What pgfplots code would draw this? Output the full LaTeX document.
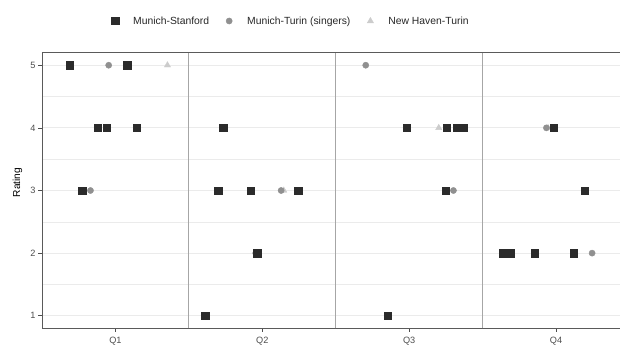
\documentclass[border=0pt]{standalone}
\usepackage{fontspec}
\setmainfont{Liberation Sans}
\usepackage{pgfplots}
\pgfplotsset{compat=1.18}
\definecolor{sqc}{HTML}{2B2B2B}
\definecolor{cic}{HTML}{909090}
\definecolor{trc}{HTML}{CCCCCC}
\definecolor{tickc}{HTML}{4D4D4D}
\definecolor{gridc}{HTML}{EBEBEB}
\definecolor{borderc}{HTML}{5A5A5A}
\definecolor{vlinec}{HTML}{A6A6A6}
\begin{document}
\begin{tikzpicture}
\begin{axis}[
  scale only axis,
  width=578bp, height=275.6bp,
  xmin=0.5, xmax=4.435,
  ymin=0.8, ymax=5.2,
  axis x line*=box, axis y line*=left,
  axis line style={borderc, line width=0.9bp},
  xtick={1,2,3,4}, xticklabels={Q1,Q2,Q3,Q4},
  ytick={1,2,3,4,5},
  minor ytick={1.5,2.5,3.5,4.5},
  xtick pos=bottom, ytick pos=left,
  tick align=outside,
  major tick length=3.5bp,
  every tick/.style={tickc, line width=0.6bp},
  ymajorgrids, yminorgrids,
  major grid style={gridc, line width=0.8bp},
  minor grid style={gridc, line width=0.5bp},
  minor tick length=0pt,
  tick label style={font=\fontsize{9.2}{11}\selectfont, text=tickc},
  /pgf/number format/assume math mode=true,
  xticklabel style={yshift=-2bp},
  yticklabel style={xshift=0.5bp},
  every axis y label/.style={at={(axis description cs:-0.0424,0.529)}, rotate=90, anchor=center},
  ylabel={\fontsize{10.2}{12}\selectfont Rating},
  legend columns=3,
  reverse legend,
  legend style={draw=none, fill=none, at={(rel axis cs:0.1176,1)}, anchor=south west, yshift=25bp,
    font=\fontsize{10.4}{12}\selectfont, text=black!85,
    /tikz/every even column/.append style={column sep=13bp},
    inner sep=0pt},
  legend image code/.code={\path[draw=none,fill=none] (0bp,0bp) (21bp,0bp);\draw[mark repeat=2,mark phase=2,#1] plot coordinates {(0bp,0bp)(5bp,0bp)(10bp,0bp)};},
  clip=false,
]
\draw[vlinec, line width=0.8bp] (axis cs:1.5,0.8) -- (axis cs:1.5,5.2);
\draw[vlinec, line width=0.8bp] (axis cs:2.5,0.8) -- (axis cs:2.5,5.2);
\draw[vlinec, line width=0.8bp] (axis cs:3.5,0.8) -- (axis cs:3.5,5.2);

\addplot[only marks, mark=triangle*, mark size=3.6bp, color=trc] coordinates {
(1.354,5) (2.146,3) (3.201,4) (3.945,4)
};
\addlegendentry{New Haven-Turin}
\addplot[only marks, mark=*, mark size=3.1bp, color=cic] coordinates {
(0.954,5) (0.830,3) (2.128,3) (1.955,2) (2.704,5) (3.301,3) (3.934,4) (4.245,2)
};
\addlegendentry{Munich-Turin (singers)}
\addplot[only marks, mark=square*, mark size=3.6bp, color=sqc] coordinates {
(0.689,5) (1.080,5) (0.880,4) (0.939,4) (1.143,4) (0.773,3)
(1.733,4) (1.699,3) (1.919,3) (2.244,3) (1.965,2) (1.611,1)
(2.983,4) (3.255,4) (3.323,4) (3.367,4) (3.249,3) (2.852,1)
(3.986,4) (4.196,3) (3.637,2) (3.691,2) (3.852,2) (4.120,2)
};
\addlegendentry{Munich-Stanford}
\coordinate (SW) at (rel axis cs:0,0);
\coordinate (NE) at (rel axis cs:1,1);
\end{axis}
\pgfresetboundingbox
\path[use as bounding box] ([shift={(-42bp,-19.7bp)}]SW) rectangle ([shift={(0bp,52.7bp)}]NE);
\end{tikzpicture}
\end{document}
